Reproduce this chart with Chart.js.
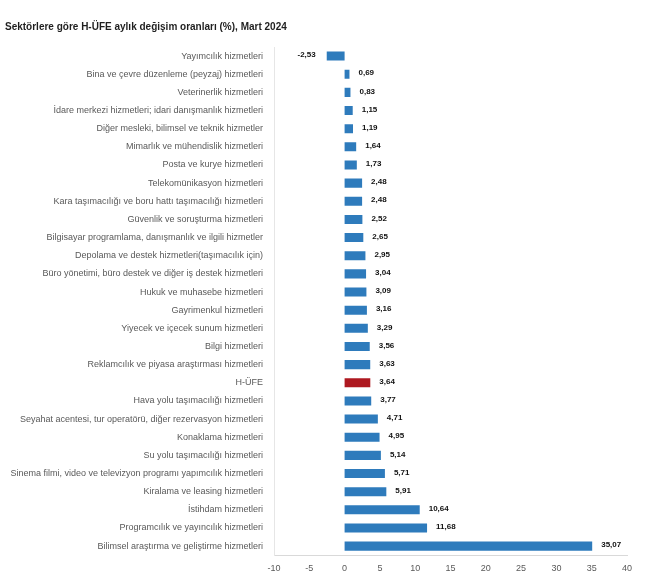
<!DOCTYPE html>
<html>
<head>
<meta charset="utf-8">
<script src="https://cdn.jsdelivr.net/npm/chart.js@4.4.1/dist/chart.umd.min.js"></script>
<style>
  html, body { margin: 0; padding: 0; background: #fff; }
  #wrap { width: 645px; height: 587px; }
</style>
</head>
<body>
<div id="wrap"><canvas id="sectorChart"></canvas></div>
<script>
// Sector names, top to bottom
const sectors = [
    'Yayımcılık hizmetleri',
    'Bina ve çevre düzenleme (peyzaj) hizmetleri',
    'Veterinerlik hizmetleri',
    'İdare merkezi hizmetleri; idari danışmanlık hizmetleri',
    'Diğer mesleki, bilimsel ve teknik hizmetler',
    'Mimarlık ve mühendislik hizmetleri',
    'Posta ve kurye hizmetleri',
    'Telekomünikasyon hizmetleri',
    'Kara taşımacılığı ve boru hattı taşımacılığı hizmetleri',
    'Güvenlik ve soruşturma hizmetleri',
    'Bilgisayar programlama, danışmanlık ve ilgili hizmetler',
    'Depolama ve destek hizmetleri(taşımacılık için)',
    'Büro yönetimi, büro destek ve diğer iş destek hizmetleri',
    'Hukuk ve muhasebe hizmetleri',
    'Gayrimenkul hizmetleri',
    'Yiyecek ve içecek sunum hizmetleri',
    'Bilgi hizmetleri',
    'Reklamcılık ve piyasa araştırması hizmetleri',
    'H-ÜFE',
    'Hava yolu taşımacılığı hizmetleri',
    'Seyahat acentesi, tur operatörü, diğer rezervasyon hizmetleri',
    'Konaklama hizmetleri',
    'Su yolu taşımacılığı hizmetleri',
    'Sinema filmi, video ve televizyon programı yapımcılık hizmetleri',
    'Kiralama ve leasing hizmetleri',
    'İstihdam hizmetleri',
    'Programcılık ve yayıncılık hizmetleri',
    'Bilimsel araştırma ve geliştirme hizmetleri'
];

// Monthly change (%), March 2024
const monthlyChange = [
    -2.53, 0.69, 0.83, 1.15, 1.19, 1.64, 1.73, 2.48, 2.48, 2.52,
    2.65, 2.95, 3.04, 3.09, 3.16, 3.29, 3.56, 3.63, 3.64, 3.77,
    4.71, 4.95, 5.14, 5.71, 5.91, 10.64, 11.68, 35.07
];

// X axis ticks
const xTicks = [-10, -5, 0, 5, 10, 15, 20, 25, 30, 35, 40];

const highlight = 'H-ÜFE';
const blue = '#2E7BBC';
const red = '#AE1820';

// Value labels next to each bar (Turkish decimal comma)
const valueLabels = {
    id: 'valueLabels',
    afterDatasetsDraw(chart) {
        const ctx = chart.ctx;
        const meta = chart.getDatasetMeta(0);
        ctx.save();
        ctx.font = "bold 8px 'Liberation Sans', Arial, sans-serif";
        ctx.fillStyle = '#111';
        ctx.textBaseline = 'middle';
        meta.data.forEach((bar, i) => {
            const v = monthlyChange[i];
            const txt = v.toFixed(2).replace('.', ',');
            if (v < 0) {
                ctx.textAlign = 'right';
                ctx.fillText(txt, bar.x - 11, bar.y - 1);
            } else {
                ctx.textAlign = 'left';
                ctx.fillText(txt, bar.x + 9, bar.y - 1);
            }
        });
        ctx.restore();
    }
};

new Chart(document.getElementById('sectorChart'), {
    type: 'bar',
    data: {
        labels: sectors,
        datasets: [{
            data: monthlyChange,
            backgroundColor: sectors.map(s => s === highlight ? red : blue),
            barPercentage: 0.5,
            categoryPercentage: 1.0
        }]
    },
    options: {
        indexAxis: 'y',
        responsive: true,
        maintainAspectRatio: false,
        animation: false,
        layout: { padding: { left: 5, right: 18, top: 0, bottom: 5 } },
        plugins: {
            legend: { display: false },
            tooltip: { enabled: false },
            title: {
                display: true,
                text: 'Sektörlere göre H-ÜFE aylık değişim oranları (%), Mart 2024',
                align: 'start',
                color: '#1F1F1F',
                font: { family: "'Liberation Sans', Arial, sans-serif", size: 10, weight: 'bold' },
                padding: { top: 21, bottom: 14 }
            }
        },
        scales: {
            x: {
                type: 'linear',
                min: -10,
                max: 40,
                afterBuildTicks: axis => { axis.ticks = xTicks.map(v => ({ value: v })); },
                grid: { display: false, drawTicks: false },
                border: { display: true, color: '#D9D9D9' },
                ticks: {
                    color: '#595959',
                    padding: 8,
                    font: { family: "'Liberation Sans', Arial, sans-serif", size: 9 }
                }
            },
            y: {
                afterFit: axis => { axis.width = 269; },
                grid: { display: false, drawTicks: false },
                border: { display: true, color: '#E6E6E6' },
                ticks: {
                    color: '#595959',
                    padding: 11,
                    autoSkip: false,
                    font: { family: "'Liberation Sans', Arial, sans-serif", size: 9 }
                }
            }
        }
    },
    plugins: [valueLabels]
});
</script>
</body>
</html>
